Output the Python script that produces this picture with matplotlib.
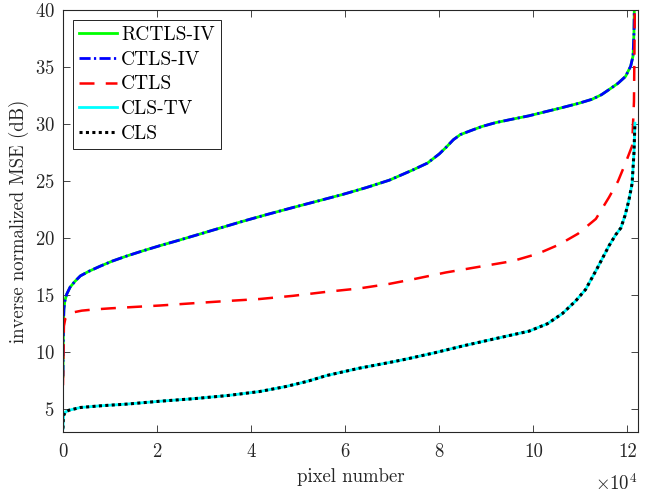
"""Inverse normalized MSE per pixel, sorted, for five reconstruction methods."""

import matplotlib

matplotlib.use("Agg")
import matplotlib.pyplot as plt  # noqa: E402

plt.rcParams["font.family"] = ["cmr10", "DejaVu Serif"]
plt.rcParams["mathtext.fontset"] = "cm"
plt.rcParams["axes.unicode_minus"] = False
plt.rcParams["axes.formatter.use_mathtext"] = True

# sorted curves, x in pixel number
iv_x = [0, 50, 100, 200, 400, 800, 1500, 2500, 3700, 5500, 7900, 10500,
        13600, 17000, 20600, 24000, 27700, 33000, 38300, 43500, 48900,
        54000, 59500, 64500, 69400, 74400, 77500, 80000, 81500, 83000,
        84500, 86400, 89000, 92000, 95500, 99100, 103000, 105500, 109700,
        112500, 114500, 116100, 118000, 119600, 120700, 121200, 121400,
        121500]
iv_y = [7.9, 10.5, 12.5, 13.8, 14.5, 15.1, 15.7, 16.2, 16.7, 17.1, 17.55,
        18.0, 18.45, 18.9, 19.35, 19.75, 20.2, 20.85, 21.5, 22.1, 22.7,
        23.25, 23.85, 24.45, 25.1, 26.0, 26.6, 27.4, 28.0, 28.65, 29.1,
        29.4, 29.8, 30.15, 30.45, 30.75, 31.15, 31.4, 31.85, 32.2, 32.6,
        33.05, 33.6, 34.2, 35.1, 36.0, 38.0, 41.0]

ctls_x = [0, 100, 200, 500, 1200, 2200, 4000, 6500, 10000, 15000, 20600,
          27700, 35000, 41800, 48900, 56000, 63000, 69400, 75000, 81400,
          88500, 95600, 101000, 105500, 109500, 113300, 116100, 118000,
          119600, 121000, 121400, 121600]
ctls_y = [7.1, 10.0, 12.3, 12.95, 13.3, 13.5, 13.65, 13.75, 13.85, 13.97,
          14.1, 14.3, 14.5, 14.67, 14.95, 15.3, 15.6, 16.0, 16.45, 17.0,
          17.5, 18.0, 18.65, 19.45, 20.4, 21.7, 23.6, 25.0, 26.6, 28.1,
          32.0, 41.0]

cls_x = [0, 50, 150, 500, 1200, 3700, 8000, 13600, 20600, 27700, 35000,
         41800, 47500, 52000, 56000, 63000, 69400, 73000, 79000, 85000,
         92000, 99100, 103000, 106200, 109000, 111100, 113500, 116100,
         117500, 118600, 119500, 120300, 121000, 121400, 121600]
cls_y = [3.3, 4.0, 4.46, 4.75, 4.9, 5.15, 5.3, 5.45, 5.7, 5.92, 6.2, 6.55,
         7.0, 7.45, 7.95, 8.6, 9.1, 9.4, 9.95, 10.55, 11.2, 11.85, 12.5,
         13.4, 14.5, 15.5, 17.3, 19.35, 20.3, 20.9, 22.0, 23.3, 24.8, 27.5,
         30.1]

x_ticks = [0, 20000, 40000, 60000, 80000, 100000, 120000]
y_ticks = [5, 10, 15, 20, 25, 30, 35, 40]


def main() -> None:
    fig = plt.figure(figsize=(6.65, 4.94), dpi=100)
    ax = fig.add_axes([0.0947, 0.1255, 0.8643, 0.8535])

    ax.plot(iv_x, iv_y, color="#00ff00", lw=2.0, label="RCTLS-IV")
    ax.plot(iv_x, iv_y, color="#0000ff", lw=2.0, ls=(0, (4, 1.2, 0.8, 1.2)),
            label="CTLS-IV")
    ax.plot(ctls_x, ctls_y, color="#ff0000", lw=1.8, ls=(0, (6, 4.5)),
            label="CTLS")
    ax.plot(cls_x, cls_y, color="#00ffff", lw=2.0, label="CLS-TV")
    ax.plot(cls_x, cls_y, color="black", lw=2.2, ls=(0, (1, 1.1)),
            label="CLS")

    ax.set_xlim(0, 122200)
    ax.set_ylim(3, 40)
    ax.set_xticks(x_ticks)
    ax.set_yticks(y_ticks)
    ax.set_xticklabels([f"{t // 10000}" for t in x_ticks])

    grey = "#262626"
    for side in ax.spines.values():
        side.set_color(grey)
        side.set_linewidth(0.8)
    ax.tick_params(direction="in", top=True, right=True, length=5,
                   width=0.6, colors=grey, labelsize=13.5, pad=6)
    ax.tick_params(axis="x", pad=8)

    # MATLAB-style exponent under the right end of the x axis
    ax.text(1.0, -0.097, r"$\times10^4$", transform=ax.transAxes,
            ha="right", va="top", fontsize=13.5, color=grey)

    ax.set_xlabel("pixel number", fontsize=13.5, color=grey, labelpad=5)
    ax.set_ylabel("inverse normalized MSE (dB)", fontsize=13.5, color=grey,
                  labelpad=4)

    leg = ax.legend(loc="upper left", fontsize=14, frameon=True,
                    fancybox=False, framealpha=1, edgecolor="black",
                    handlelength=2.0, handletextpad=0.2, borderpad=0.3,
                    labelspacing=0.35, borderaxespad=0.5)
    leg.get_frame().set_linewidth(0.6)

    fig.savefig("out.png", dpi=100)
    plt.close(fig)


if __name__ == "__main__":
    main()
